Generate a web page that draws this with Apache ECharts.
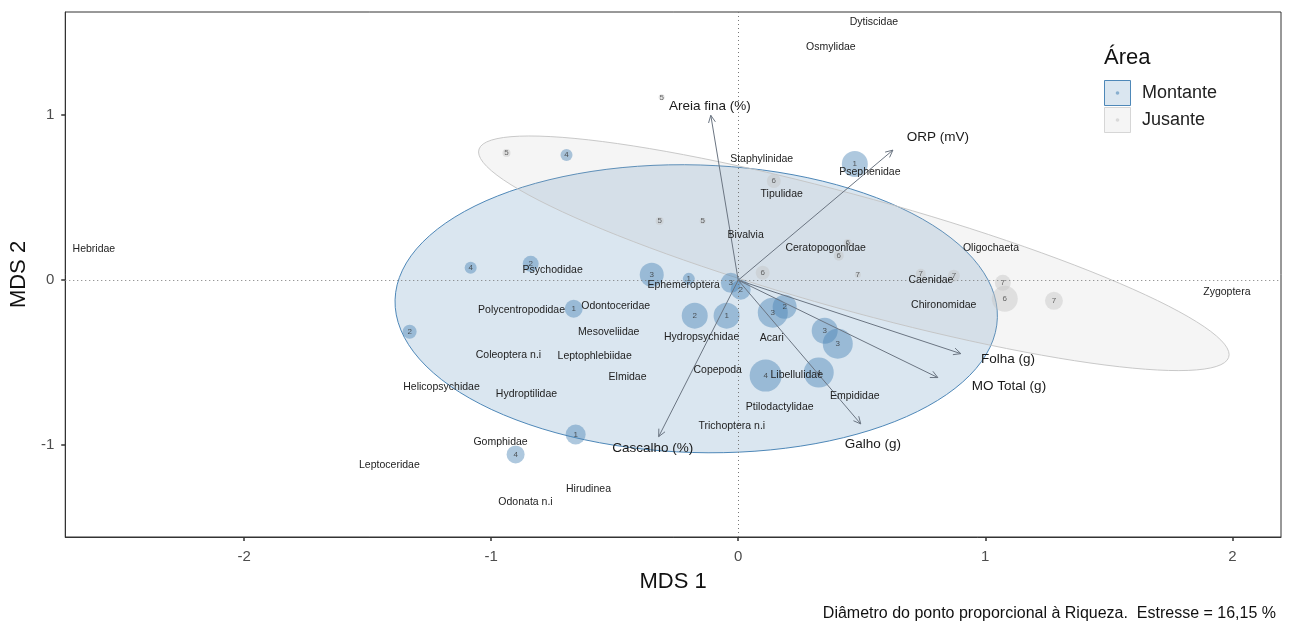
<!DOCTYPE html>
<html>
<head>
<meta charset="utf-8">
<script src="https://cdn.jsdelivr.net/npm/echarts@6/dist/echarts.min.js"></script>
<style>
  html, body { margin: 0; padding: 0; background: #fff; }
  #chart { width: 1293px; height: 623px; }
</style>
</head>
<body>
<div id="chart"></div>
<script>
// NMDS ordination: sampling sites, taxa, environmental vectors
const FONT = '"Liberation Sans", Arial, Helvetica, sans-serif';

const xTicks = [-2, -1, 0, 1, 2];
const yTicks = [-1, 0, 1];
const xRange = [-2.724, 2.197];
const yRange = [-1.556, 1.625];

// Sites (Área = Montante)
const montanteId = [4, 4, 2, 3, 1, 3, 2, 2, 1, 3, 2, 3, 3, 4, 4, 1, 2, 1, 4, 1];
const montanteX = [-0.695, -1.083, -0.840, -0.350, -0.200, -0.030, 0.010, -0.176, -0.047, 0.140,
                   0.188, 0.350, 0.403, 0.111, 0.326, -0.666, -1.330, -0.658, -0.901, 0.472];
const montanteY = [0.759, 0.075, 0.099, 0.033, 0.008, -0.016, -0.058, -0.215, -0.215, -0.197,
                   -0.161, -0.306, -0.385, -0.578, -0.560, -0.173, -0.312, -0.935, -1.056, 0.704];
const montanteRiqueza = [6, 6, 8, 12, 6, 10, 10, 13, 13, 15, 12, 13, 15, 16, 15, 9, 7, 10, 9, 13];

// Sites (Área = Jusante)
const jusanteId = [5, 5, 5, 5, 6, 6, 6, 6, 7, 7, 7, 7, 6, 7];
const jusanteX = [-0.310, -0.938, -0.318, -0.144, 0.144, 0.443, 0.407, 0.099, 0.484, 0.739,
                  0.873, 1.071, 1.079, 1.278];
const jusanteY = [1.108, 0.770, 0.359, 0.359, 0.601, 0.226, 0.148, 0.045, 0.033, 0.039,
                  0.027, -0.016, -0.113, -0.125];
const jusanteRiqueza = [3, 4, 4, 3, 7, 4, 5, 7, 3, 5, 6, 8, 13, 9];

// Group ellipses: centre and two conjugate semi-axis vectors
const ellipseArea = ['Montante', 'Jusante'];
const ellipseCx = [-0.170, 0.468];
const ellipseCy = [-0.173, 0.163];
const ellipseUx = [1.219, 1.519];
const ellipseUy = [-0.054, -0.614];
const ellipseVx = [-0.016, 0.000];
const ellipseVy = [-0.871, -0.358];

// Taxa scores
const taxaNames = ['Dytiscidae', 'Osmylidae', 'Hebridae', 'Staphylinidae', 'Psephenidae', 'Tipulidae',
  'Bivalvia', 'Ceratopogonidae', 'Oligochaeta', 'Psychodidae', 'Ephemeroptera', 'Caenidae',
  'Chironomidae', 'Zygoptera', 'Polycentropodidae', 'Odontoceridae', 'Mesoveliidae', 'Hydropsychidae',
  'Acari', 'Coleoptera n.i', 'Leptophlebiidae', 'Copepoda', 'Libellulidae', 'Elmidae',
  'Helicopsychidae', 'Hydroptilidae', 'Empididae', 'Ptilodactylidae', 'Trichoptera n.i', 'Gomphidae',
  'Leptoceridae', 'Hirudinea', 'Odonata n.i'];
const taxaX = [0.549, 0.375, -2.608, 0.095, 0.533, 0.176, 0.030, 0.354, 1.023, -0.751, -0.221, 0.780,
  0.832, 1.978, -0.877, -0.496, -0.524, -0.148, 0.136, -0.930, -0.581, -0.083, 0.237, -0.448,
  -1.201, -0.857, 0.472, 0.168, -0.026, -0.962, -1.412, -0.606, -0.861];
const taxaY = [1.563, 1.412, 0.190, 0.734, 0.656, 0.523, 0.275, 0.196, 0.196, 0.063, -0.028, 0.002,
  -0.149, -0.070, -0.179, -0.155, -0.312, -0.342, -0.348, -0.451, -0.463, -0.542, -0.578, -0.590,
  -0.650, -0.693, -0.705, -0.766, -0.887, -0.984, -1.121, -1.266, -1.345];

// Environmental vectors (arrow tips) and their label positions
const envNames = ['Areia fina (%)', 'ORP (mV)', 'Folha (g)', 'MO Total (g)', 'Galho (g)', 'Cascalho (%)'];
const envX = [-0.111, 0.626, 0.901, 0.808, 0.496, -0.322];
const envY = [0.999, 0.788, -0.445, -0.590, -0.871, -0.948];
const envLabelX = [-0.115, 0.808, 1.092, 1.096, 0.545, -0.346];
const envLabelY = [1.055, 0.868, -0.481, -0.644, -0.995, -1.021];

const caption = 'Diâmetro do ponto proporcional à Riqueza.  Estresse = 16,15 %';

const BLUE = 'rgba(70,130,180,0.55)';
const GREY = 'rgba(195,195,195,0.55)';

function siteData(ids, xs, ys, rs) {
  return ids.map((id, i) => [xs[i], ys[i], rs[i], id]);
}

const ellipseData = ellipseArea.map((a, i) =>
  [ellipseCx[i], ellipseCy[i], ellipseUx[i], ellipseUy[i], ellipseVx[i], ellipseVy[i]]);

const ellipseStyles = [
  { fill: 'rgba(70,130,180,0.2)', stroke: 'rgba(70,130,180,0.95)' },
  { fill: 'rgba(185,185,185,0.15)', stroke: 'rgba(195,195,195,0.9)' }
];

// text marks placed through the cartesian coordinate system
function textSeries(name, labels, xs, ys, fontSize, color) {
  return {
    type: 'custom', name: name, z: 6, silent: true, clip: false,
    data: labels.map((t, i) => [xs[i], ys[i], i]),
    renderItem: function (params, api) {
      const p = api.coord([api.value(0), api.value(1)]);
      return {
        type: 'text', x: p[0], y: p[1],
        style: {
          text: labels[api.value(2)], fill: color,
          fontSize: fontSize, fontFamily: FONT,
          align: 'center', verticalAlign: 'middle'
        }
      };
    }
  };
}

const chart = echarts.init(document.getElementById('chart'), null, { renderer: 'canvas' });

const option = {
  animation: false,
  textStyle: { fontFamily: FONT },
  grid: {
    left: 65, right: 12, top: 12, bottom: 86,
    show: true, borderColor: '#333', borderWidth: 1, backgroundColor: '#fff'
  },
  title: {
    text: caption,
    right: 12, top: 601,
    textStyle: { fontFamily: FONT, fontSize: 16, fontWeight: 'normal', color: '#111' }
  },
  xAxis: {
    type: 'value', min: xRange[0], max: xRange[1],
    name: 'MDS 1', nameLocation: 'middle', nameGap: 34,
    nameTextStyle: { fontFamily: FONT, fontSize: 22, color: '#111' },
    axisLine: { onZero: false, lineStyle: { color: '#333', width: 1 } },
    axisTick: { customValues: xTicks, length: 4, lineStyle: { color: '#333', width: 1.5 } },
    axisLabel: { customValues: xTicks, fontSize: 15, color: '#4d4d4d', margin: 12, fontFamily: FONT },
    splitLine: { show: false }
  },
  yAxis: {
    type: 'value', min: yRange[0], max: yRange[1],
    name: 'MDS 2', nameLocation: 'middle', nameGap: 25, nameRotate: 90,
    nameTextStyle: { fontFamily: FONT, fontSize: 22, color: '#111' },
    axisLine: { onZero: false, lineStyle: { color: '#333', width: 1 } },
    axisTick: { customValues: yTicks, length: 4, lineStyle: { color: '#333', width: 1.5 } },
    axisLabel: { customValues: yTicks, fontSize: 15, color: '#4d4d4d', margin: 11, fontFamily: FONT },
    splitLine: { show: false }
  },
  graphic: [
    { type: 'text', left: 1104, top: 47,
      style: { text: 'Área', fontSize: 22, fill: '#111', fontFamily: FONT } },
    { type: 'rect', shape: { x: 1104.5, y: 80.5, width: 26, height: 25 },
      style: { fill: 'rgba(70,130,180,0.2)', stroke: 'rgba(70,130,180,0.95)', lineWidth: 1 } },
    { type: 'circle', shape: { cx: 1117.5, cy: 93, r: 1.8 }, style: { fill: BLUE } },
    { type: 'rect', shape: { x: 1104.5, y: 107.5, width: 26, height: 25 },
      style: { fill: 'rgba(185,185,185,0.15)', stroke: 'rgba(210,210,210,0.9)', lineWidth: 1 } },
    { type: 'circle', shape: { cx: 1117.5, cy: 120, r: 1.8 }, style: { fill: GREY } },
    { type: 'text', left: 1142, top: 84,
      style: { text: 'Montante', fontSize: 18, fill: '#222', fontFamily: FONT } },
    { type: 'text', left: 1142, top: 111,
      style: { text: 'Jusante', fontSize: 18, fill: '#222', fontFamily: FONT } }
  ],
  series: [
    {
      // reference lines through the origin
      type: 'scatter', data: [], silent: true, z: 1,
      markLine: {
        silent: true, symbol: 'none', label: { show: false },
        lineStyle: { type: [1, 3], color: '#777', width: 1 },
        data: [{ xAxis: 0 }, { yAxis: 0 }]
      }
    },
    {
      type: 'custom', name: 'ellipses', z: 2, clip: true,
      data: ellipseData,
      renderItem: function (params, api) {
        const cx = api.value(0), cy = api.value(1);
        const ux = api.value(2), uy = api.value(3), vx = api.value(4), vy = api.value(5);
        const pts = [];
        const n = 120;
        for (let k = 0; k < n; k++) {
          const t = 2 * Math.PI * k / n;
          pts.push(api.coord([cx + ux * Math.cos(t) + vx * Math.sin(t),
                              cy + uy * Math.cos(t) + vy * Math.sin(t)]));
        }
        const st = ellipseStyles[params.dataIndex];
        return { type: 'polygon', shape: { points: pts },
                 style: { fill: st.fill, stroke: st.stroke, lineWidth: 1 } };
      }
    },
    {
      type: 'scatter', name: 'Montante', z: 3,
      data: siteData(montanteId, montanteX, montanteY, montanteRiqueza),
      symbolSize: v => v[2] * 2,
      itemStyle: { color: BLUE },
      label: { show: true, position: 'inside', formatter: p => p.value[3],
               fontSize: 8, color: '#333', fontFamily: FONT }
    },
    {
      type: 'scatter', name: 'Jusante', z: 3,
      data: siteData(jusanteId, jusanteX, jusanteY, jusanteRiqueza),
      symbolSize: v => v[2] * 2,
      itemStyle: { color: GREY },
      label: { show: true, position: 'inside', formatter: p => p.value[3],
               fontSize: 8, color: '#444', fontFamily: FONT }
    },
    {
      type: 'custom', name: 'vectors', z: 4,
      data: envX.map((x, i) => [x, envY[i]]),
      renderItem: function (params, api) {
        const o = api.coord([0, 0]);
        const p = api.coord([api.value(0), api.value(1)]);
        const ang = Math.atan2(p[1] - o[1], p[0] - o[0]);
        const L = 8, a = Math.PI / 7;
        const h1 = [p[0] - L * Math.cos(ang - a), p[1] - L * Math.sin(ang - a)];
        const h2 = [p[0] - L * Math.cos(ang + a), p[1] - L * Math.sin(ang + a)];
        const st = { stroke: '#6b7582', lineWidth: 1, fill: null };
        return {
          type: 'group',
          children: [
            { type: 'line', shape: { x1: o[0], y1: o[1], x2: p[0], y2: p[1] }, style: st },
            { type: 'polyline', shape: { points: [h1, p, h2] }, style: st }
          ]
        };
      }
    },
    textSeries('taxa', taxaNames, taxaX, taxaY, 10.5, '#222'),
    textSeries('env', envNames, envLabelX, envLabelY, 13.5, '#1a1a1a')
  ]
};

chart.setOption(option);
</script>
</body>
</html>
